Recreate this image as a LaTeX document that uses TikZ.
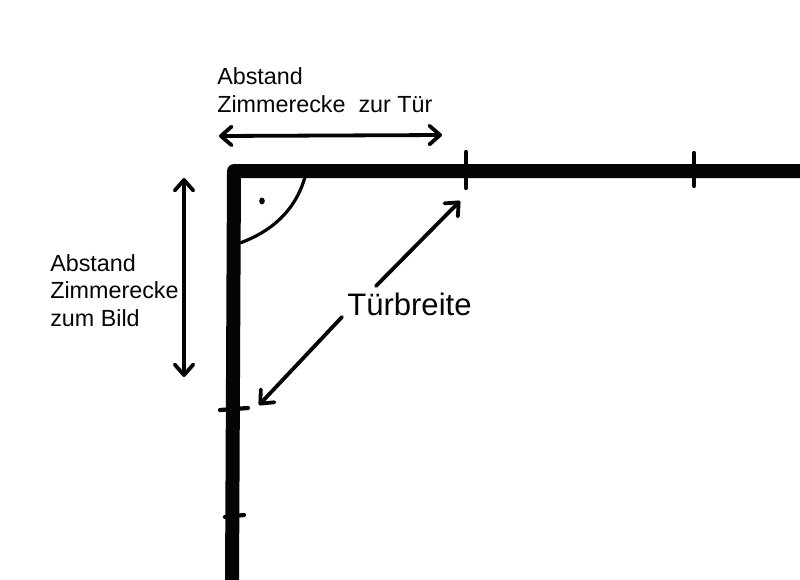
\documentclass[tikz,border=0pt]{standalone}
\usepackage{fontspec}
\setmainfont{Liberation Sans}
\usetikzlibrary{arrows.meta}
\definecolor{inkblack}{RGB}{5, 5, 5}
\tikzset{
    wall/.style={color=inkblack, line width=14*0.75pt, line cap=butt},
    tick/.style={color=inkblack, line width=4.2*0.75pt, line cap=round},
    measure/.style={color=inkblack, line width=3.8*0.75pt, line cap=round, {Straight Barb[length=8pt,width=14pt,round]}-{Straight Barb[length=8pt,width=14pt,round]}},
    pointer/.style={color=inkblack, line width=3.8*0.75pt, line cap=round, -{Straight Barb[length=8pt,width=14pt,round]}},
    label/.style={anchor=west, align=left, inner sep=0pt, font=\fontsize{17.5}{20.7}\selectfont, text=inkblack}
}
\begin{document}
\begin{tikzpicture}[x=0.75pt, y=-0.75pt]
            \useasboundingbox[fill=white] (0,0) rectangle (800,579);
            % walls
            \coordinate (corner) at (234,171);
            \coordinate (wallright) at (804,171);
            \coordinate (wallbottom) at (232,584);
            \draw[wall, line join=round] (wallright) -- (corner) -- (wallbottom);
            % marks on the walls
            \coordinate (doortop) at (466,152);   \coordinate (doorbottom) at (466,188);
            \coordinate (secondtop) at (694,153); \coordinate (secondbottom) at (694,186);
            \coordinate (pictleft) at (220,410);  \coordinate (pictright) at (248,408);
            \coordinate (lowerleft) at (225,517); \coordinate (lowerright) at (244,515);
            \draw[tick] (doortop) -- (doorbottom);
            \draw[tick] (secondtop) -- (secondbottom);
            \draw[tick] (pictleft) -- (pictright);
            \draw[tick] (lowerleft) -- (lowerright);
            % right angle
            \coordinate (arcstart) at (305,177);
            \coordinate (arcend) at (240,243);
            \draw[color=inkblack, line width=3.2*0.75pt] (arcstart) .. controls (295,212) and (270,232) .. (arcend);
            \fill[color=inkblack] (262,201) ellipse (2.8 and 3.4);
            % labels
            \node[label] (topnote) at (217,90) {Abstand\\Zimmerecke\ \ zur Tür};
            \node[label] (leftnote) at (50,290.5) {Abstand\\Zimmerecke\\zum Bild};
            \node[anchor=west, inner sep=0pt, font=\fontsize{23.3}{26}\selectfont, text=inkblack] (doorwidth) at (347,304.5) {Türbreite};
            % measures
            \coordinate (topleft) at (219,136);  \coordinate (topright) at (442,135);
            \coordinate (sideup) at (184,178);   \coordinate (sidedown) at (184,377);
            \coordinate (diagtop) at (460,201);  \coordinate (diagbottom) at (259,405);
            \coordinate (uppertail) at (376,286); \coordinate (lowertail) at (342,317);
            \draw[measure] (topleft) -- (topright);
            \draw[measure] (sideup) -- (sidedown);
            \draw[pointer] (uppertail) -- (diagtop);
            \draw[pointer] (lowertail) -- (diagbottom);
            \end{tikzpicture}
\end{document}
